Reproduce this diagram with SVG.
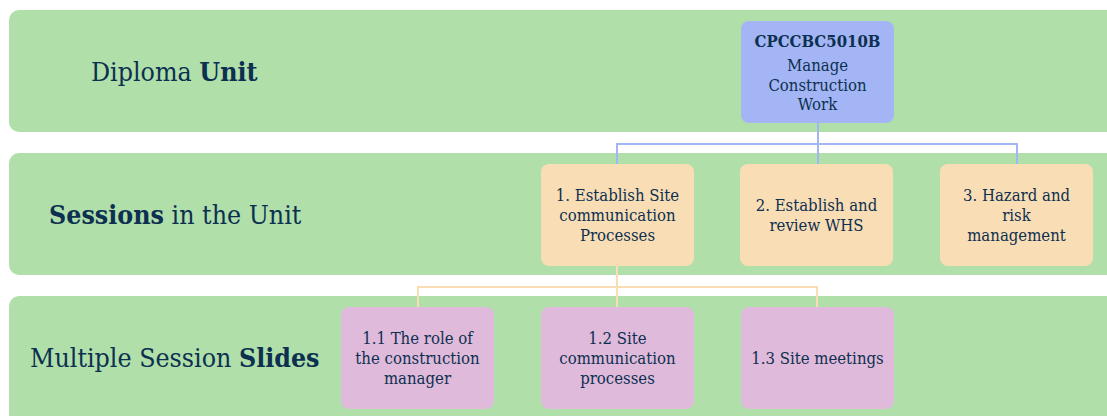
<svg xmlns="http://www.w3.org/2000/svg" width="1107" height="416" viewBox="0 0 1107 416">
  <style>
    .band { fill: #b0dfaa; }
    .unit { fill: #a3b5f5; }
    .session { fill: #f9ddb5; }
    .slide { fill: #dfbadb; }
    text { font-family: "DejaVu Serif", "Liberation Serif", serif; font-stretch: condensed; fill: #0d3050; }
    .lbl { font-size: 26.5px; }
    .nt { font-size: 16.6px; text-anchor: middle; }
    .b { font-weight: bold; }
    .c-blue { stroke: #a3b5f5; stroke-width: 2; fill: none; }
    .c-orange { stroke: #f9ddb5; stroke-width: 2; fill: none; }
  </style>

  <!-- level bands -->
  <g id="bands">
    <rect class="band" x="9" y="10" width="1120" height="122" rx="10"/>
    <rect class="band" x="9" y="153" width="1120" height="122" rx="10"/>
    <rect class="band" x="9" y="296" width="1120" height="140" rx="10"/>
    <text class="lbl" x="91" y="81">Diploma <tspan class="b">Unit</tspan></text>
    <text class="lbl" x="49" y="224"><tspan class="b">Sessions</tspan> in the Unit</text>
    <text class="lbl" x="30" y="367">Multiple Session <tspan class="b">Slides</tspan></text>
  </g>

  <!-- connectors -->
  <g id="connectors">
    <path class="c-blue" d="M818 122 V144 M617 164 V144 H1017 V164 M818 144 V164"/>
    <path class="c-orange" d="M617 266 V287 M418 307 V287 H817 V307 M617 287 V307"/>
  </g>

  <!-- unit -->
  <g id="unit">
    <rect class="unit" x="741" y="21" width="153" height="102" rx="8"/>
    <text class="nt b" x="817.5" y="47">CPCCBC5010B</text>
    <text class="nt" x="817.5" y="71">Manage</text>
    <text class="nt" x="817.5" y="91">Construction</text>
    <text class="nt" x="817.5" y="110">Work</text>
  </g>

  <!-- sessions -->
  <g id="session-1">
    <rect class="session" x="541" y="164" width="153" height="102" rx="8"/>
    <text class="nt" x="617.5" y="201">1. Establish Site</text>
    <text class="nt" x="617.5" y="221">communication</text>
    <text class="nt" x="617.5" y="241">Processes</text>
  </g>
  <g id="session-2">
    <rect class="session" x="740" y="164" width="153" height="102" rx="8"/>
    <text class="nt" x="816.5" y="211">2. Establish and</text>
    <text class="nt" x="816.5" y="231">review WHS</text>
  </g>
  <g id="session-3">
    <rect class="session" x="940" y="164" width="153" height="102" rx="8"/>
    <text class="nt" x="1016.5" y="201">3. Hazard and</text>
    <text class="nt" x="1016.5" y="221">risk</text>
    <text class="nt" x="1016.5" y="241">management</text>
  </g>

  <!-- slides -->
  <g id="slide-1-1">
    <rect class="slide" x="341" y="307" width="153" height="102" rx="8"/>
    <text class="nt" x="417.5" y="344">1.1 The role of</text>
    <text class="nt" x="417.5" y="364">the construction</text>
    <text class="nt" x="417.5" y="384">manager</text>
  </g>
  <g id="slide-1-2">
    <rect class="slide" x="541" y="307" width="153" height="102" rx="8"/>
    <text class="nt" x="617.5" y="344">1.2 Site</text>
    <text class="nt" x="617.5" y="364">communication</text>
    <text class="nt" x="617.5" y="384">processes</text>
  </g>
  <g id="slide-1-3">
    <rect class="slide" x="741" y="307" width="153" height="102" rx="8"/>
    <text class="nt" x="817.5" y="364">1.3 Site meetings</text>
  </g>
</svg>
